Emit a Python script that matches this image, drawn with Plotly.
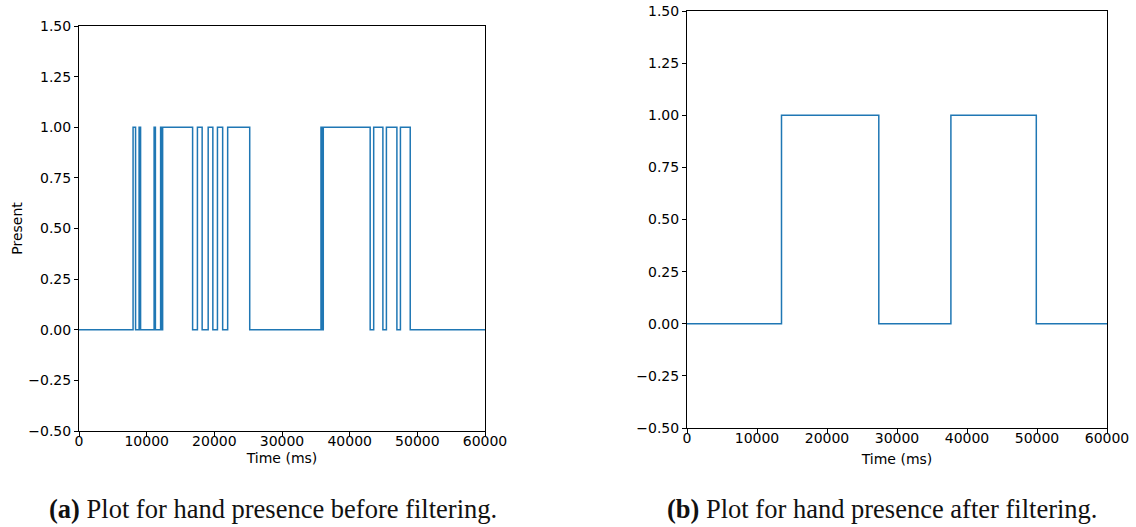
import plotly.graph_objects as go

# Hand-presence state changes (time in ms, state held until the next change)
before_time = [0, 7990, 8360, 8880, 9100, 11100, 11290, 12060, 12210, 12360,
               16790, 17500, 18200, 19090, 19780, 20460, 21230, 21970, 25230,
               35760, 35930, 36100, 43030, 43550, 44910, 45430, 46980, 47500,
               48950, 60000]
before_present = [0, 1, 0, 1, 0, 1, 0, 1, 0, 1,
                  0, 1, 0, 1, 0, 1, 0, 1, 0,
                  1, 0, 1, 0, 1, 0, 1, 0, 1,
                  0, 0]

after_time = [0, 13500, 27400, 37700, 49900, 60000]
after_present = [0, 1, 0, 1, 0, 0]

x_ticks = [0, 10000, 20000, 30000, 40000, 50000, 60000]
y_ticks = [-0.5, -0.25, 0.0, 0.25, 0.5, 0.75, 1.0, 1.25, 1.5]

captions = [
    ("(a)", "Plot for hand presence before filtering."),
    ("(b)", "Plot for hand presence after filtering."),
]

W, H = 1136, 527
line_color = "#1f77b4"
tick_font = dict(family="DejaVu Sans", size=14, color="#000000")

fig = go.Figure()
fig.add_trace(go.Scatter(x=before_time, y=before_present, mode="lines",
                         line=dict(color=line_color, width=1.5, shape="hv"),
                         xaxis="x", yaxis="y", showlegend=False))
fig.add_trace(go.Scatter(x=after_time, y=after_present, mode="lines",
                         line=dict(color=line_color, width=1.5, shape="hv"),
                         xaxis="x2", yaxis="y2", showlegend=False))


def xaxis_cfg(domain, anchor, title_gap):
    return dict(domain=domain, anchor=anchor, range=[0, 60000],
                tickvals=x_ticks, ticktext=[str(v) for v in x_ticks],
                showgrid=False, zeroline=False, showline=True, mirror=True,
                linecolor="#000000", linewidth=1, ticks="outside",
                ticklen=4, tickcolor="#000000", tickfont=tick_font,
                ticklabelstandoff=-7, automargin=False,
                title=dict(text="Time (ms)", font=tick_font, standoff=title_gap))


def yaxis_cfg(domain, anchor, title):
    return dict(domain=domain, anchor=anchor, range=[-0.5, 1.5],
                tickvals=y_ticks, ticktext=[f"{v:.2f}".replace("-", "\u2212") for v in y_ticks],
                showgrid=False, zeroline=False, showline=True, mirror=True,
                linecolor="#000000", linewidth=1, ticks="outside",
                ticklen=4, tickcolor="#000000", tickfont=tick_font,
                automargin=False,
                title=dict(text=title, font=tick_font, standoff=2))


left_x = [79 / W, 485 / W]
left_y = [1 - 431 / H, 1 - 26 / H]
right_x = [687 / W, 1107 / W]
right_y = [1 - 428 / H, 1 - 11 / H]

annotations = []
for (tag, text), cx in zip(captions, [273 / W, 882 / W]):
    annotations.append(dict(
        x=cx, y=1 - 509 / H, xref="paper", yref="paper",
        xanchor="center", yanchor="middle", showarrow=False,
        text=f"<b>{tag}</b> {text}",
        font=dict(family="Liberation Serif", size=26.5, color="#111111")))

fig.update_layout(
    width=W, height=H,
    margin=dict(l=0, r=0, t=0, b=0),
    paper_bgcolor="#ffffff", plot_bgcolor="#ffffff",
    xaxis=xaxis_cfg(left_x, "y", 5),
    yaxis=yaxis_cfg(left_y, "x", "Present"),
    xaxis2=xaxis_cfg(right_x, "y2", 9),
    yaxis2=yaxis_cfg(right_y, "x2", ""),
    annotations=annotations,
)

fig.write_html("out.html")
